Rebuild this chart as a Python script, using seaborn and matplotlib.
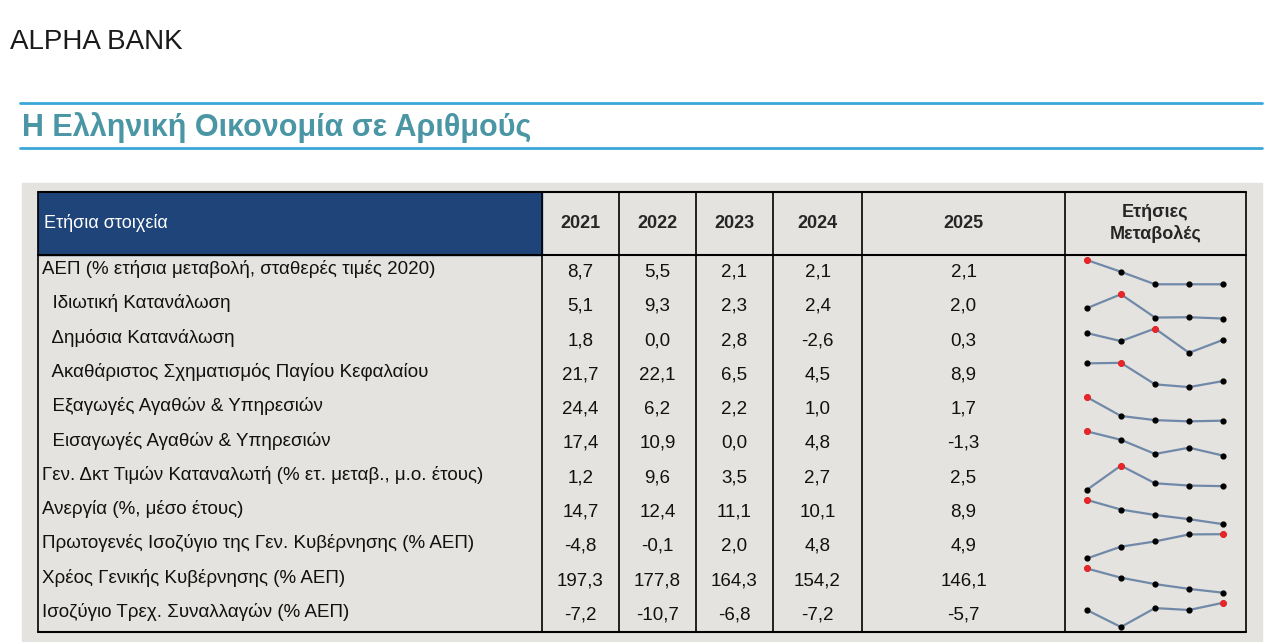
import numpy as np
import pandas as pd
import matplotlib
matplotlib.use("Agg")
import matplotlib.pyplot as plt
from matplotlib.patches import Rectangle
import seaborn as sns
sns.set_style("white")
plt.rcParams['font.family'] = ['Liberation Sans', 'DejaVu Sans']

years = ['2021', '2022', '2023', '2024', '2025']
labels = ['ΑΕΠ (% ετήσια μεταβολή, σταθερές τιμές 2020)',
          '  Ιδιωτική Κατανάλωση',
          '  Δημόσια Κατανάλωση',
          '  Ακαθάριστος Σχηματισμός Παγίου Κεφαλαίου',
          '  Εξαγωγές Αγαθών & Υπηρεσιών',
          '  Εισαγωγές Αγαθών & Υπηρεσιών',
          'Γεν. Δκτ Τιμών Καταναλωτή (% ετ. μεταβ., μ.ο. έτους)',
          'Ανεργία (%, μέσο έτους)',
          'Πρωτογενές Ισοζύγιο της Γεν. Κυβέρνησης (% ΑΕΠ)',
          'Χρέος Γενικής Κυβέρνησης (% ΑΕΠ)',
          'Ισοζύγιο Τρεχ. Συναλλαγών (% ΑΕΠ)']
gdp = [8.7, 5.5, 2.1, 2.1, 2.1]
priv = [5.1, 9.3, 2.3, 2.4, 2.0]
pub = [1.8, 0.0, 2.8, -2.6, 0.3]
gfcf = [21.7, 22.1, 6.5, 4.5, 8.9]
exports = [24.4, 6.2, 2.2, 1.0, 1.7]
imports = [17.4, 10.9, 0.0, 4.8, -1.3]
cpi = [1.2, 9.6, 3.5, 2.7, 2.5]
unemp = [14.7, 12.4, 11.1, 10.1, 8.9]
primary = [-4.8, -0.1, 2.0, 4.8, 4.9]
debt = [197.3, 177.8, 164.3, 154.2, 146.1]
current = [-7.2, -10.7, -6.8, -7.2, -5.7]
rows = [gdp, priv, pub, gfcf, exports, imports, cpi, unemp, primary, debt, current]

W, H = 1280, 642
fig = plt.figure(figsize=(12.8, 6.42), dpi=100)
ax = fig.add_axes([0, 0, 1, 1])
ax.set_xlim(0, W)
ax.set_ylim(H, 0)
ax.axis('off')

teal = '#4a96a4'
ax.text(10, 42, 'ALPHA BANK', fontsize=20, color='#1a1a1a', va='center')
ax.plot([20, 1262], [103, 103], color='#3aa7d8', lw=2)
ax.plot([20, 1262], [148, 148], color='#3aa7d8', lw=2)
ax.text(22, 128, 'Η Ελληνική Οικονομία σε Αριθμούς', fontsize=22, color=teal,
        fontweight='bold', va='center')

ax.add_patch(Rectangle((22, 183), 1240, 459, color='#e4e3df', zorder=0))

cols = [38, 542, 619, 696, 773, 862, 1065, 1246]
top, head_bot, bot = 192, 255, 632
rh = (bot - head_bot) / len(rows)
ax.add_patch(Rectangle((cols[0], top), cols[1] - cols[0], head_bot - top,
                       color='#1f4479', zorder=1))
ax.text(cols[0] + 6, (top + head_bot) / 2, 'Ετήσια στοιχεία', color='white',
        fontsize=13, va='center', zorder=2)
for i, y in enumerate(years):
    ax.text((cols[i + 1] + cols[i + 2]) / 2, (top + head_bot) / 2, y,
            fontsize=13, fontweight='bold', ha='center', va='center')
ax.text((cols[6] + cols[7]) / 2, (top + head_bot) / 2, 'Ετήσιες\nΜεταβολές',
        fontsize=13, fontweight='bold', ha='center', va='center', linespacing=1.3)

# grid
for x in cols:
    ax.plot([x, x], [top, bot], color='black', lw=1.2, zorder=3)
ax.plot([cols[0], cols[-1]], [top, top], color='black', lw=1.5, zorder=3)
ax.plot([cols[0], cols[-1]], [head_bot, head_bot], color='black', lw=1.5, zorder=3)
ax.plot([cols[0], cols[-1]], [bot, bot], color='black', lw=1.5, zorder=3)

for r, (lab, vals) in enumerate(zip(labels, rows)):
    yc = head_bot + rh * (r + 0.5)
    ax.text(cols[0] + 4, yc - 3, lab, fontsize=13.5, va='center', color='#111111')
    for i, v in enumerate(vals):
        ax.text((cols[i + 1] + cols[i + 2]) / 2, yc, f'{v:.1f}'.replace('.', ','),
                fontsize=13.5, ha='center', va='center', color='#111111')
    # sparkline
    x0, x1 = 1080, 1230
    y0 = head_bot + rh * r + 5
    sax = fig.add_axes([x0 / W, 1 - (y0 + rh - 10) / H, (x1 - x0) / W, (rh - 10) / H])
    df = pd.DataFrame({'x': range(5), 'v': vals})
    sns.lineplot(data=df, x='x', y='v', ax=sax, color='#7189a8', lw=1.6)
    sax.scatter(df['x'], df['v'], color='black', s=12, zorder=3, clip_on=False)
    k = int(np.argmax(vals))
    sax.scatter([k], [vals[k]], color='#e8262a', s=16, zorder=4, clip_on=False)
    sax.set_xlim(-0.2, 4.2)
    lo, hi = min(vals), max(vals)
    sax.set_ylim(lo, hi)
    sax.axis('off')
    for ln in sax.lines:
        ln.set_clip_on(False)

fig.savefig('out.png', dpi=100)
